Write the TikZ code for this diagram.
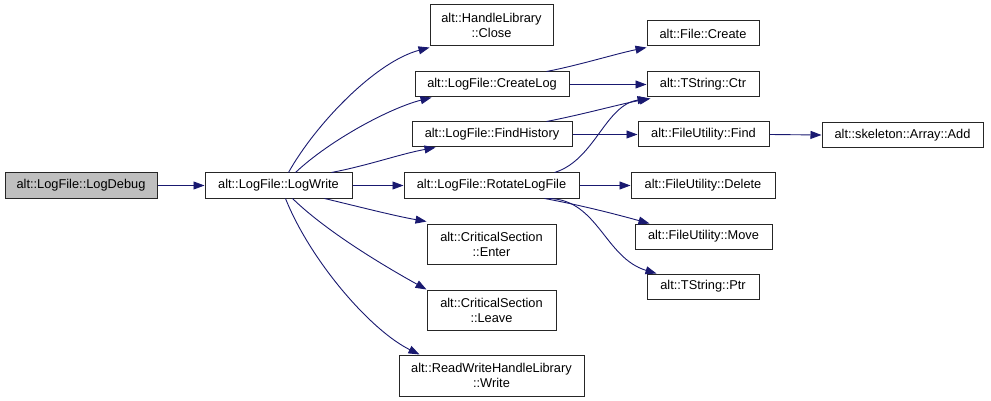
\documentclass[tikz,border=0pt]{standalone}
\usepackage{fontspec}
\setmainfont{Liberation Sans}
\usetikzlibrary{arrows.meta}
\definecolor{edgeblue}{HTML}{191970}
\definecolor{grayfill}{HTML}{BFBFBF}
\tikzset{
  fn/.style={draw=black!85, line width=1pt, fill=white, inner sep=0pt, align=center,
    font=\fontsize{12.8}{15}\selectfont, minimum height=25pt},
  fntwo/.style={fn, minimum height=41pt},
  call/.style={draw=edgeblue, line width=0.9pt,
    -{Triangle[length=11pt,width=8pt]}, color=edgeblue},
}
\begin{document}
\begin{tikzpicture}[x=1pt,y=-1pt]
\useasboundingbox (0,0) rectangle (991,401);
% nodes
\node[fn, fill=grayfill, minimum width=152pt] (ld) at (81,185.5) {alt::LogFile::LogDebug};
\node[fn, minimum width=147pt] (lw) at (278.5,185.5) {alt::LogFile::LogWrite};
\node[fntwo, minimum width=123pt] (cl) at (491.5,25.5) {alt::HandleLibrary\\::Close};
\node[fn, minimum width=154pt] (cr) at (492,84.5) {alt::LogFile::CreateLog};
\node[fn, minimum width=160pt] (fh) at (492,134.5) {alt::LogFile::FindHistory};
\node[fn, minimum width=175pt] (rl) at (491.5,185.5) {alt::LogFile::RotateLogFile};
\node[fntwo, minimum width=129pt, minimum height=40pt] (en) at (491.5,244) {alt::CriticalSection\\::Enter};
\node[fntwo, minimum width=129pt, minimum height=40pt] (lv) at (491.5,310) {alt::CriticalSection\\::Leave};
\node[fntwo, minimum width=185pt] (wr) at (491.5,375.5) {alt::ReadWriteHandleLibrary\\::Write};
\node[fn, minimum width=112pt] (fc) at (703,33.5) {alt::File::Create};
\node[fn, minimum width=112pt] (ct) at (703,84.5) {alt::TString::Ctr};
\node[fn, minimum width=131pt] (fd) at (703.5,134.5) {alt::FileUtility::Find};
\node[fn, minimum width=144pt] (de) at (703,185.5) {alt::FileUtility::Delete};
\node[fn, minimum width=137pt] (mv) at (703.5,236.5) {alt::FileUtility::Move};
\node[fn, minimum width=112pt] (pt) at (703,286.5) {alt::TString::Ptr};
\node[fn, minimum width=161pt] (ad) at (902.5,135) {alt::skeleton::Array::Add};
% edges
\draw[call] (ld.east) -- (lw.west);
\draw[call] ([xshift=84pt]lw.north west) .. controls (315,125) and (375,62) .. ([yshift=-1pt]cl.south west);
\draw[call] ([xshift=91pt]lw.north west) .. controls (330,140) and (390,108) .. ([xshift=17pt]cr.south west);
\draw[call] ([xshift=127pt]lw.north west) .. controls (370,165) and (400,154) .. ([xshift=24pt]fh.south west);
\draw[call] (lw.east) -- (rl.west);
\draw[call] ([xshift=120pt]lw.south west) .. controls (360,207) and (395,216) .. ([yshift=2pt]en.north west);
\draw[call] ([xshift=88pt]lw.south west) .. controls (330,235) and (395,272) .. ([yshift=0pt]lv.north west);
\draw[call] ([xshift=81pt]lw.south west) .. controls (310,260) and (370,330) .. ([xshift=21pt]wr.north west);
\draw[call] ([xshift=132pt]cr.north west) .. controls (580,65) and (615,54) .. ([yshift=-1pt]fc.south west);
\draw[call] (cr.east) -- (ct.west);
\draw[call] ([xshift=135pt]fh.north west) .. controls (585,114) and (620,104) .. ([xshift=4pt,yshift=-1pt]ct.south west);
\draw[call] ([xshift=151pt]rl.north west) .. controls (595,160) and (605,105) .. ([xshift=2pt,yshift=-1pt]ct.south west);
\draw[call] (fh.east) -- (fd.west);
\draw[call] (fd.east) -- (ad.west);
\draw[call] (rl.east) -- (de.west);
\draw[call] ([xshift=141pt]rl.south west) .. controls (580,205) and (615,214) .. ([xshift=15pt]mv.north west);
\draw[call] ([xshift=146pt]rl.south west) .. controls (598,200) and (605,258) .. ([xshift=10pt]pt.north west);
\end{tikzpicture}
\end{document}
